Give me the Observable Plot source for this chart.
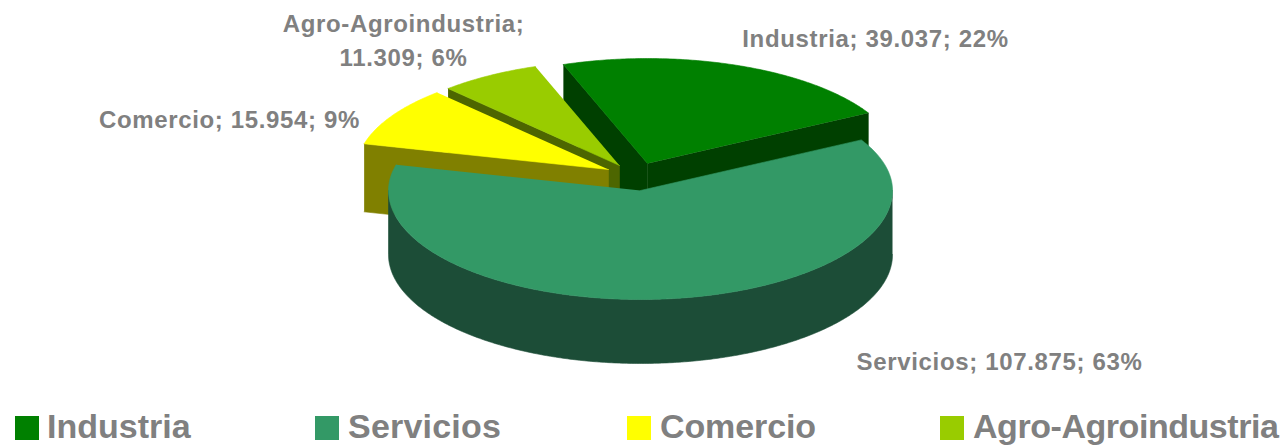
<!DOCTYPE html>
<html>
<head>
<meta charset="utf-8">
<script src="https://cdn.jsdelivr.net/npm/d3@7"></script>
<script src="https://cdn.jsdelivr.net/npm/@observablehq/plot@0.6"></script>
<style>
html,body{margin:0;padding:0;background:#fff;}
#chart svg{display:block;}
#legend{position:relative;width:1283px;height:42px;font:bold 34px "Liberation Sans",Arial,sans-serif;color:#808080;overflow:hidden;}
#legend span{position:absolute;top:0;line-height:42px;white-space:nowrap;}
#legend i{position:absolute;top:11px;width:24px;height:24px;}
</style>
</head>
<body>
<div id="chart"></div>
<div id="legend"></div>
<script>
// --- data ---
const categories = ["Industria", "Servicios", "Comercio", "Agro-Agroindustria"];
const values = [39037, 107875, 15954, 11309];
const shownPercents = [22, 63, 9, 6];

// --- styles and layout ---
const topColors  = ["#008000", "#339966", "#FFFF00", "#99CC00"];
const wallColors = ["#004000", "#1C4D37", "#808000", "#4D6600"];
const apexX = [647, 640, 608, 619];
const apexY = [163, 190, 169, 165];
const depths = [64, 64, 68, 64];
const labelX = [875, 999, 229, 403];
const labelY = [36, 359, 117, 38];
const labelBreak = ["; ", "; ", "; ", ";\n"];
const legendSwatchX = [15, 315, 627, 940];
const legendTextX = [47, 348, 660, 973];
const legendTextSpacing = [0, 0.2, -0.1, -0.45];
const rx = 252, ryBack = 105, ryFront = 109;
const W = 1283, H = 405;
const drawOrder = [0, 3, 2, 1];

const fmt = d3.formatLocale({decimal: ",", thousands: ".", grouping: [3], currency: ["", ""]}).format(",d");
const arcs = d3.pie().sort(null).startAngle(-19.5 * Math.PI / 180).endAngle((360 - 19.5) * Math.PI / 180)(values);

const rim = (i, t) => {
  const ry = Math.cos(t) >= 0 ? ryBack : ryFront;
  return {x: apexX[i] + rx * Math.sin(t), y: apexY[i] - ry * Math.cos(t)};
};
const drop = (p, d) => ({x: p.x, y: p.y + d});
const arcPoints = (i, a, b) => {
  const n = Math.max(2, Math.ceil(Math.abs(b - a) / 0.01));
  return d3.range(n + 1).map(k => rim(i, a + (b - a) * k / n));
};
const face = (points, fill) => Plot.line(points, {x: "x", y: "y", fill, stroke: fill, strokeWidth: 0.6, curve: "linear"});

const marks = [];
for (const i of drawOrder) {
  const a = arcs[i].startAngle, b = arcs[i].endAngle, d = depths[i];
  const apex = {x: apexX[i], y: apexY[i]};
  const wall = wallColors[i];
  // cut faces that look towards the viewer
  if (i !== 1) {
    const s = rim(i, a);
    marks.push(face([s, apex, drop(apex, d), drop(s, d)], wall));
  }
  if (i === 0) {
    const e = rim(i, b);
    marks.push(face([apex, e, drop(e, d), drop(apex, d)], wall));
  }
  // outer wall on the near half of the rim
  const lo = Math.max(a, Math.PI / 2), hi = Math.min(b, 3 * Math.PI / 2);
  if (hi > lo) {
    const rimPts = arcPoints(i, lo, hi);
    marks.push(face([...rimPts, ...rimPts.slice().reverse().map(p => drop(p, d))], wall));
  }
  // top
  marks.push(face([{x: apexX[i], y: apexY[i]}, ...arcPoints(i, a, b)], topColors[i]));
}

const labels = categories.map((c, i) => ({
  text: `${c}${labelBreak[i]}${fmt(values[i])}; ${shownPercents[i]}%`,
  x: labelX[i], y: labelY[i]
}));
marks.push(Plot.text(labels, {
  x: "x", y: "y", text: "text", fill: "#808080", fontWeight: "bold", fontSize: 24,
  lineHeight: 1.42, frameAnchor: "middle", textAnchor: "middle"
}));

const plot = Plot.plot({
  width: W, height: H, margin: 0,
  x: {domain: [0, W], axis: null},
  y: {domain: [H, 0], axis: null},
  style: {fontFamily: '"Liberation Sans",Arial,sans-serif', background: "#fff", letterSpacing: "0.65px"},
  marks
});
document.getElementById("chart").append(plot);

const legend = document.getElementById("legend");
categories.forEach((c, i) => {
  const sw = document.createElement("i");
  sw.style.left = legendSwatchX[i] + "px";
  sw.style.background = topColors[i];
  const t = document.createElement("span");
  t.style.left = legendTextX[i] + "px";
  t.style.letterSpacing = legendTextSpacing[i] + "px";
  t.textContent = c;
  legend.append(sw, t);
});
</script>
</body>
</html>
